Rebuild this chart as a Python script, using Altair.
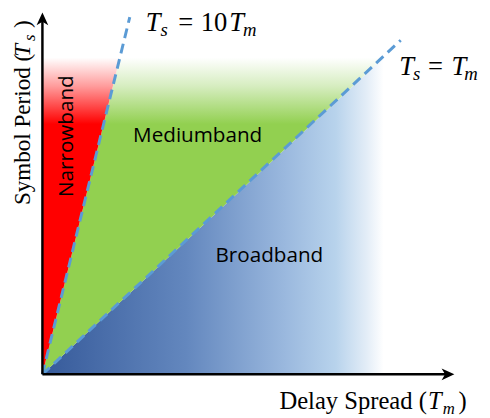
import altair as alt
import pandas as pd

# ---------------- values ----------------
# data units: x = delay spread (Tm), y = symbol period (Ts); region spans 0..1
region_top = 1.0
region_right = 1.0
steep_at_top = 0.227          # x of the Ts = 10Tm boundary at the top of the region

line_names = ["Ts=Tm", "Ts=Tm", "Ts=10Tm", "Ts=10Tm"]
line_x = [0.0, 1.05, 0.0, 0.256]
line_y = [0.0, 1.055, 0.0, 1.128]

axis_x_end = 1.187
axis_y_end = 1.121

region_names = ["Narrowband", "Mediumband", "Broadband"]
region_lx = [0.072, 0.455, 0.665]
region_ly = [0.752, 0.752, 0.373]
region_angle = [270, 0, 0]

# formula labels: anchor, pieces (text, dx px, dy px, size, italic)
label_anchor = {
    "tenTm": (0.3026, 1.0839, 0),
    "eqTm": (1.0460, 0.9441, 0),
    "xtitle": (0.6945, -0.1087, 0),
    "ytitle": (-0.0375, 0.5342, 270),
}
label_pieces = {
    "tenTm": [("T", 0, 0, 27, True), ("s", 15, 5, 19, True), ("=", 33, 0, 27, False),
              ("10", 56, 0, 27, False), ("T", 85, 0, 27, True), ("m", 99, 5, 19, True)],
    "eqTm": [("T", 0, 0, 27, True), ("s", 14, 5, 19, True), ("=", 29, 0, 27, False),
             ("T", 53, 0, 27, True), ("m", 66, 5, 19, True)],
    "xtitle": [("Delay Spread (", 0, 0, 25, False), ("T", 151, 0, 25, True),
               ("m", 166, 5, 17, True), (")", 182, 0, 25, False)],
    "ytitle": [("Symbol Period (", 0, 0, 23.5, False), ("T", 151, 0, 23.5, True),
               ("s", 167, 5, 17, True), (")", 180, 0, 23.5, False)],
}

SERIF = "'Liberation Serif', 'Times New Roman', Times, serif"

# ---------------- layout ----------------
W, H = 482, 410
PXX, PXY = 347.0, 322.0      # pixels per data unit
OX, OY = 35.0, 369.0         # origin inside the chart, pixels
xdom = [-OX / PXX, (W - OX) / PXX]
ydom = [(OY - H) / PXY, OY / PXY]
xs = alt.Scale(domain=xdom, nice=False, zero=False)
ys = alt.Scale(domain=ydom, nice=False, zero=False)

# ---------------- tables ----------------
blue = pd.DataFrame({"x": [0.0, region_right], "y": [0.0, region_top], "y2": [0.0, 0.0]})
green = pd.DataFrame({"y": [0.0, region_top], "x": [0.0, steep_at_top], "x2": [0.0, region_right]})
red = pd.DataFrame({"y": [0.0, region_top], "x": [0.0, 0.0], "x2": [0.0, steep_at_top]})
lines = pd.DataFrame({"line": line_names, "x": line_x, "y": line_y})
axes = pd.DataFrame({"x": [0.0, 0.0], "y": [0.0, 0.0], "x2": [0.0, axis_x_end], "y2": [axis_y_end, 0.0]})
heads = pd.DataFrame({"x": [0.0, axis_x_end], "y": [axis_y_end, 0.0], "angle": [0, 90]})
regions = pd.DataFrame({"name": region_names, "x": region_lx, "y": region_ly, "angle": region_angle})

rows = []
for key, pieces in label_pieces.items():
    ax, ay, ang = label_anchor[key]
    for txt, dx, dy, size, ital in pieces:
        if ang == 270:
            px, py = ax + dy / PXX, ay + dx / PXY
        else:
            px, py = ax + dx / PXX, ay - dy / PXY
        rows.append({"t": txt, "x": px, "y": py, "size": size, "angle": ang, "italic": ital})
pieces_df = pd.DataFrame(rows)


def grad_v(color, light):
    return alt.Gradient(
        gradient="linear", x1=0, x2=0, y1=0, y2=1,
        stops=[alt.GradientStop(color="#ffffff", offset=0),
               alt.GradientStop(color=light, offset=0.09),
               alt.GradientStop(color=color, offset=0.21),
               alt.GradientStop(color=color, offset=1)])


blue_grad = alt.Gradient(
    gradient="linear", x1=0, x2=1, y1=0, y2=0,
    stops=[alt.GradientStop(color="#365a9a", offset=0),
           alt.GradientStop(color="#6387be", offset=0.42),
           alt.GradientStop(color="#9ab8de", offset=0.71),
           alt.GradientStop(color="#b8d3ec", offset=0.86),
           alt.GradientStop(color="#e3edf7", offset=0.95),
           alt.GradientStop(color="#ffffff", offset=1)])

X = lambda f="x": alt.X(f, type="quantitative", scale=xs, axis=None)
Y = lambda f="y": alt.Y(f, type="quantitative", scale=ys, axis=None)

blue_l = alt.Chart(blue).mark_area(color=blue_grad, orient="vertical").encode(
    x=X(), y=Y(), y2="y2")
green_l = alt.Chart(green).mark_area(color=grad_v("#92d050", "#d6edc0"), orient="horizontal").encode(
    y=Y(), x=X(), x2="x2")
red_l = alt.Chart(red).mark_area(color=grad_v("#ff0000", "#ff9c9c"), orient="horizontal").encode(
    y=Y(), x=X(), x2="x2")
line_l = alt.Chart(lines).mark_line(color="#5b9bd5", strokeWidth=3, strokeDash=[10, 6]).encode(
    x=X(), y=Y(), detail="line")
axis_l = alt.Chart(axes).mark_rule(color="black", strokeWidth=2.5).encode(
    x=X(), y=Y(), x2="x2", y2="y2")
head_l = alt.Chart(heads).mark_point(
    shape="M0,-1 L0.85,0.85 L0,0.35 L-0.85,0.85 Z", filled=True, color="black",
    opacity=1, size=196, strokeWidth=0).encode(
    x=X(), y=Y(), angle=alt.Angle("angle", scale=None))
region_l = alt.Chart(regions).mark_text(
    font="Open Sans", fontSize=21, color="black", align="center", baseline="middle").encode(
    x=X(), y=Y(), text="name", angle=alt.Angle("angle", scale=None))

up_l = alt.Chart(pieces_df).transform_filter("!datum.italic").mark_text(
    font=SERIF, color="black", align="left", baseline="alphabetic").encode(
    x=X(), y=Y(), text="t", size=alt.Size("size", scale=None, legend=None),
    angle=alt.Angle("angle", scale=None))
it_l = alt.Chart(pieces_df).transform_filter("datum.italic").mark_text(
    font=SERIF, fontStyle="italic", color="black", align="left",
    baseline="alphabetic").encode(
    x=X(), y=Y(), text="t", size=alt.Size("size", scale=None, legend=None),
    angle=alt.Angle("angle", scale=None))

chart = alt.layer(blue_l, green_l, red_l, line_l, axis_l, head_l, region_l, up_l, it_l).properties(
    width=W, height=H, padding=0, autosize=alt.AutoSizeParams(type="none")
).configure_view(strokeWidth=0)

chart.save("out.html", embed_options={"renderer": "svg", "actions": False})
